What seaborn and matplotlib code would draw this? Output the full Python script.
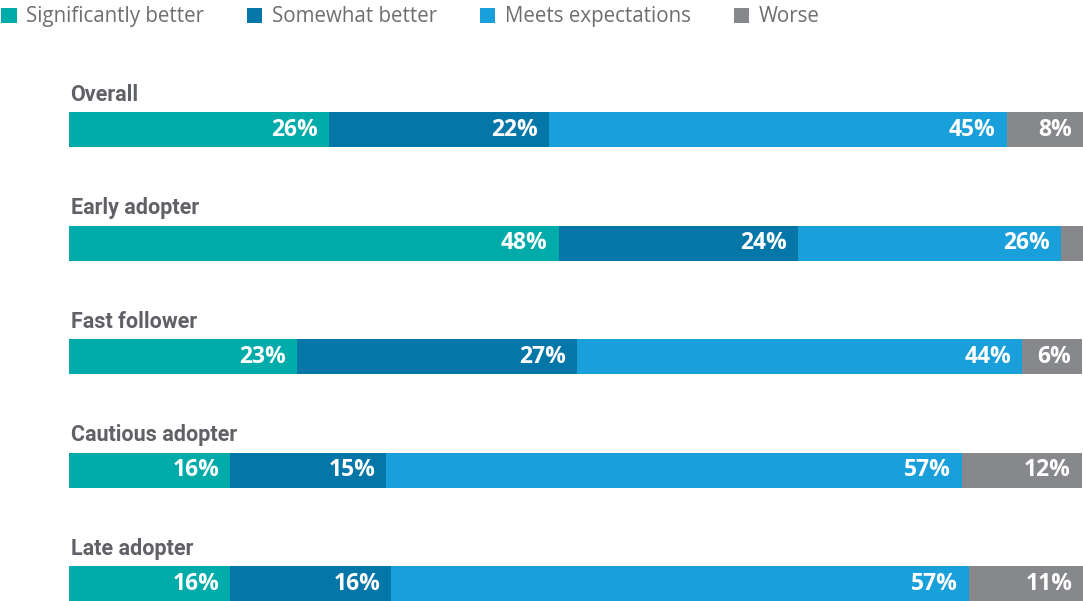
import pandas as pd
import numpy as np
import matplotlib.pyplot as plt
import seaborn as sns
from matplotlib.patches import Patch

# --- data ---
groups = ["Overall", "Early adopter", "Fast follower", "Cautious adopter", "Late adopter"]
categories = ["Significantly better", "Somewhat better", "Meets expectations", "Worse"]
sig_better = [25.6, 48.3, 22.5, 15.9, 15.9]
some_better = [21.7, 23.6, 27.6, 15.4, 15.9]
meets = [45.2, 25.9, 43.9, 56.8, 57.0]
worse = [7.5, 2.3, 5.9, 11.8, 11.3]
labels_sig = ["26%", "48%", "23%", "16%", "16%"]
labels_some = ["22%", "24%", "27%", "15%", "16%"]
labels_meets = ["45%", "26%", "44%", "57%", "57%"]
labels_worse = ["8%", "", "6%", "12%", "11%"]

colors = ["#00aba9", "#0476a8", "#19a0db", "#86888c"]

df = pd.DataFrame({
    "group": groups,
    categories[0]: sig_better,
    categories[1]: some_better,
    categories[2]: meets,
    categories[3]: worse,
})
cum = df[categories].cumsum(axis=1)
cum["group"] = groups

sns.set_style("white")
plt.rcParams["font.family"] = ["Open Sans", "DejaVu Sans"]

fig = plt.figure(figsize=(10.83, 6.01), dpi=100)
ax = fig.add_axes([69 / 1083, 0, 1 - 69 / 1083, 1])

# stacked bars: draw the cumulative totals from the back to the front
for cat, col in reversed(list(zip(categories, colors))):
    sns.barplot(data=cum, y="group", x=cat, order=groups, orient="h",
                color=col, width=0.308, saturation=1, linewidth=0, ax=ax)

all_labels = [labels_sig, labels_some, labels_meets, labels_worse]
for i, g in enumerate(groups):
    for j, cat in enumerate(categories):
        txt = all_labels[j][i]
        if txt:
            ax.text(cum.loc[i, cat] - 1.1, i, txt, ha="right", va="center",
                    color="white", fontsize=16.5, fontweight="bold")
    ax.text(0.15, i - 0.31, g, ha="left", va="center", color="#5f6166",
            fontsize=15.5, fontweight="bold", family=["Roboto", "DejaVu Sans"])

ax.set_xlim(0, 100)
ax.set_ylim(4.15, -1.145)
ax.set_axis_off()

handles = [Patch(facecolor=c, edgecolor="none") for c in colors]
fig.legend(handles, categories, loc="upper left", bbox_to_anchor=(-0.0065, 1.003),
           ncol=4, frameon=False, fontsize=14.8, labelcolor="#6d6e71",
           handlelength=0.75, handleheight=0.75, handletextpad=0.45,
           columnspacing=2.1, borderaxespad=0)

fig.savefig("out.png", dpi=100)
